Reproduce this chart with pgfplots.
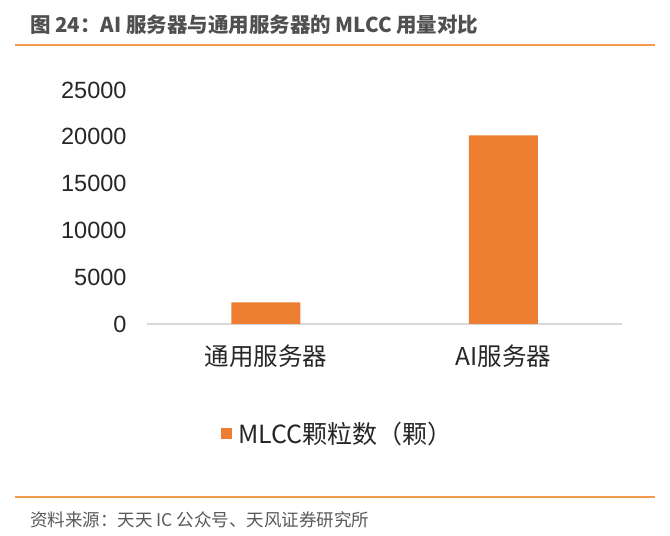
\documentclass[border=0pt]{standalone}
\usepackage{pgfplots}
\pgfplotsset{compat=1.18}
\usepackage{fontspec}
\setmainfont{Liberation Sans}
\newfontfamily\cjk{Noto Sans CJK SC}
\definecolor{barorange}{HTML}{ED7D31}
\definecolor{lineorange}{HTML}{F39A4B}
\definecolor{axgray}{HTML}{D9D9D9}
\definecolor{titlegray}{HTML}{505050}
\definecolor{txtgray}{HTML}{262626}
\definecolor{srcgray}{HTML}{595959}
\begin{document}
\begin{tikzpicture}[x=1pt,y=1pt]
\path[use as bounding box] (0,0) rectangle (670,536);
\node[anchor=west, text=titlegray, font=\cjk\bfseries\fontsize{20.5}{20.5}\selectfont, inner sep=0pt] at (30,511) {图 24：AI 服务器与通用服务器的 MLCC 用量对比};
\draw[lineorange, line width=2pt] (15,491) -- (655,491);
\draw[lineorange, line width=2pt] (15,39) -- (655,39);
\node[anchor=west, text=srcgray, font=\cjk\fontsize{17.5}{17.5}\selectfont, inner sep=0pt] at (30,16) {资料来源：天天 IC 公众号、天风证券研究所};
\begin{axis}[
  at={(147pt,212pt)}, anchor=south west,
  scale only axis, width=475pt, height=234pt,
  xmin=-0.5, xmax=1.5, ymin=0, ymax=25000,
  ybar, bar width=69pt,
  axis lines=left,
  x axis line style={-, draw=axgray, line width=1.4pt},
  y axis line style={draw=none},
  major tick length=0pt,
  xtick={0,1}, xticklabels={通用服务器, AI服务器},
  ytick={0,5000,10000,15000,20000,25000},
  scaled y ticks=false,
  /pgf/number format/assume math mode=true,
  /pgf/number format/1000 sep={},
  yticklabel style={font=\fontsize{23.5}{23.5}\selectfont, text=txtgray, anchor=east, xshift=-17pt},
  xticklabel style={font=\cjk\fontsize{24.5}{24.5}\selectfont, text=txtgray, anchor=center, yshift=-32pt},
  legend style={draw=none, fill=none, at={(0.156,-0.47)}, anchor=west, font=\cjk\fontsize{25}{25}\selectfont, text=txtgray, inner sep=0pt},
  legend image code/.code={\fill[barorange] (0pt,-5.5pt) rectangle (11pt,5.5pt);},
  legend cell align=left,
  clip=false,
]
\addplot[fill=barorange, draw=none] coordinates {(0,2300) (1,20150)};
\addlegendentry{\hspace{4pt}MLCC颗粒数（颗）}
\end{axis}
\end{tikzpicture}
\end{document}
